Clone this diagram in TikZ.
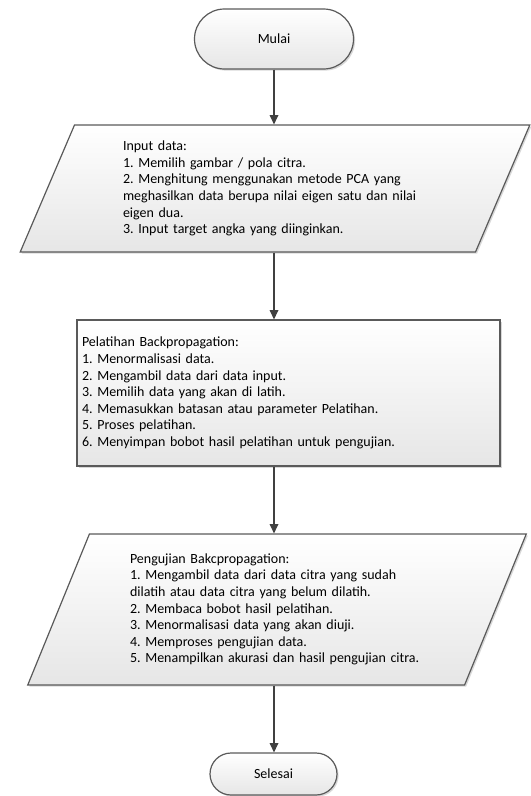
\documentclass[tikz,border=0pt]{standalone}
\usepackage{fontspec}
\setmainfont{Carlito}
\usetikzlibrary{shapes.geometric,arrows.meta,positioning,shadows}
\definecolor{linegray}{RGB}{64,64,64}
\definecolor{boxgray}{RGB}{90,90,90}
\definecolor{fillgray}{RGB}{230,230,230}
\frenchspacing

\begin{document}
\begin{tikzpicture}[
    x=0.75pt, y=-0.75pt,
    font=\fontsize{10.5pt}{12.45pt}\selectfont,
    basebox/.style={draw=boxgray, line width=0.9pt, top color=white, bottom color=fillgray,
        drop shadow={shadow xshift=1.2pt, shadow yshift=-1.2pt, fill=black!30}},
    terminal/.style={basebox, rectangle, inner sep=0pt},
    iobox/.style={basebox, trapezium, trapezium left angle=66.6, trapezium right angle=113.4,
        trapezium stretches=true, align=left, inner sep=0pt},
    procbox/.style={basebox, rectangle, align=left, inner sep=0pt},
    arrow/.style={->, >={Triangle[length=7pt,width=6.5pt]}, draw=linegray, line width=0.9pt}
]
\useasboundingbox (0,0) rectangle (531,796);

% Start
\node[terminal, minimum width=119.25pt, minimum height=45pt, rounded corners=22.5pt] (mulai) at (274,39) {Mulai};

% Input
\node[iobox, minimum width=382.5pt, minimum height=95.25pt, text width=228pt] (input) at (275,188.5) {Input data:\\
1. Memilih gambar / pola citra.\\
2. Menghitung menggunakan metode PCA yang\\
meghasilkan data berupa nilai eigen satu dan nilai\\
eigen dua.\\
3. Input target angka yang diinginkan.};

% Training
\node[procbox, minimum width=317.25pt, minimum height=109.5pt, text width=309.75pt] (pelatihan) at (288.5,393) {Pelatihan Backpropagation:\\
1. Menormalisasi data.\\
2. Mengambil data dari data input.\\
3. Memilih data yang akan di latih.\\
4. Memasukkan batasan atau parameter Pelatihan.\\
5. Proses pelatihan.\\
6. Menyimpan bobot hasil pelatihan untuk pengujian.\par\vspace{15pt}};

% Testing
\node[iobox, minimum width=375pt, minimum height=113.25pt, text width=220.5pt] (pengujian) at (277,609.5) {Pengujian Bakcpropagation:\\
1. Mengambil data dari data citra yang sudah\\
dilatih atau data citra yang belum dilatih.\\
2. Membaca bobot hasil pelatihan.\\
3. Menormalisasi data yang akan diuji.\\
4. Memproses pengujian data.\\
5. Menampilkan akurasi dan hasil pengujian citra.};

% End
\node[terminal, minimum width=95.25pt, minimum height=31.5pt, rounded corners=15.75pt] (selesai) at (273.5,774) {Selesai};

% Arrows
\draw[arrow] (mulai.south) -- (input.north -| mulai);
\draw[arrow] (input.south -| mulai) -- (pelatihan.north -| mulai);
\draw[arrow] (pelatihan.south -| mulai) -- (pengujian.north -| mulai);
\draw[arrow] (pengujian.south -| mulai) -- (selesai.north -| mulai);

\end{tikzpicture}
\end{document}
